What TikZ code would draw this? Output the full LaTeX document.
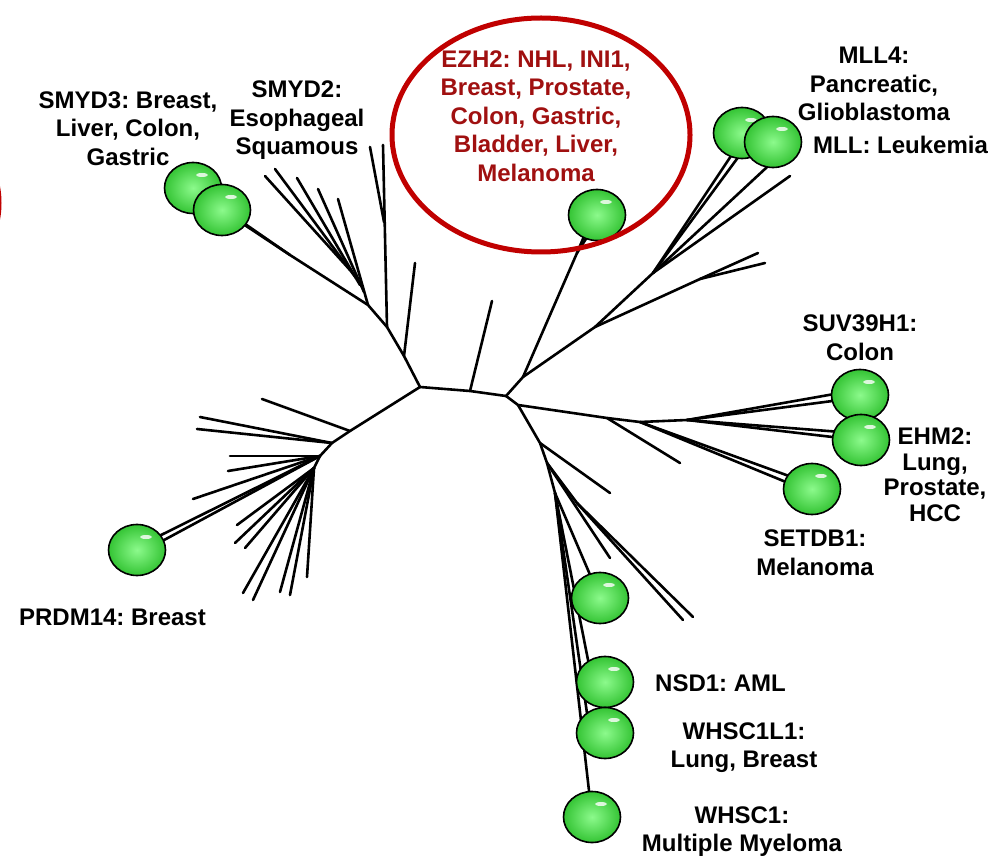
\documentclass[tikz,border=0pt]{standalone}
\usepackage{fontspec}
\setmainfont{Liberation Sans}
\usetikzlibrary{shapes.geometric}
\definecolor{ezhtext}{RGB}{160,16,16}
\definecolor{ezhring}{RGB}{192,0,0}
\definecolor{ballin}{RGB}{140,250,140}
\definecolor{ballout}{RGB}{52,196,52}
\pgfdeclarelayer{bgfill}
\pgfdeclarelayer{treelines}
\pgfsetlayers{bgfill,treelines,main}
\frenchspacing
\begin{document}
\begin{tikzpicture}[x=1pt,y=-1pt,
  edgeline/.style={line width=2.6pt, line cap=round, line join=round},
  gball/.style={ellipse, draw=black, line width=1.6pt, minimum width=57pt, minimum height=51pt,
    inner sep=0pt, shade, inner color=ballin, outer color=ballout,
    path picture={\fill[white,opacity=0.8] ([xshift=9pt,yshift=13pt]path picture bounding box.center) ellipse [x radius=6pt, y radius=2pt];}},
  txtlab/.style={font=\fontsize{24pt}{28.5pt}\selectfont\bfseries, align=center, inner sep=0pt},
]
\begin{pgfonlayer}{bgfill}
\fill[white] (0,0) rectangle (990,866);
\end{pgfonlayer}
\useasboundingbox (0,0) rectangle (990,866);

% ---------- balls ----------
\node[gball] (smyd3a) at (193,188) {};
\node[gball] (smyd3b) at (222,210) {};
\node[gball] (ezh2) at (597,215) {};
\node[gball] (mll4) at (742,133) {};
\node[gball] (mll) at (773,142) {};
\node[gball] (suv) at (860,395) {};
\node[gball] (ehm2) at (861,440) {};
\node[gball] (setdb1) at (812,489) {};
\node[gball] (prdm14) at (137,550) {};
\node[gball] (topb) at (600,598) {};
\node[gball] (nsd1) at (605,682) {};
\node[gball] (whsc1l1) at (605,733) {};
\node[gball] (whsc1) at (592,817) {};

% ---------- tree coordinates ----------
\coordinate (A) at (420,387);
\coordinate (M) at (470,391);
\coordinate (B) at (506,396);
\coordinate (mU) at (492,301);
% upper-left clade
\coordinate (a1) at (404,356);
\coordinate (a1t) at (415,263);
\coordinate (a2) at (387,327);
\coordinate (a2t) at (383,145);
\coordinate (a2m) at (384,222);
\coordinate (a2u) at (370,147);
\coordinate (a3) at (368,305);
\coordinate (f1t) at (338,199);
\coordinate (q1) at (364,292);
\coordinate (f2t) at (318,189);
\coordinate (q2) at (360,285);
\coordinate (f3t) at (297,178);
\coordinate (q3) at (356,278);
\coordinate (f4t) at (275,169);
\coordinate (q4) at (350,270);
\coordinate (f5t) at (265,176);
\coordinate (s3) at (290,255);
% lower-left clade
\coordinate (c1) at (350,431);
\coordinate (c1t) at (262,399);
\coordinate (c2) at (332,443);
\coordinate (c2t) at (200,417);
\coordinate (c2u) at (197,429);
\coordinate (c3) at (320,456);
\coordinate (h1) at (230,456);
\coordinate (h2) at (228,471);
\coordinate (h3) at (193,499);
\coordinate (c3b) at (314,468);
\coordinate (h4) at (237,525);
\coordinate (h5) at (235,543);
\coordinate (h6) at (245,548);
\coordinate (h7) at (243,593);
\coordinate (h8) at (253,600);
\coordinate (h9) at (280,592);
\coordinate (h10) at (290,595);
\coordinate (h11) at (307,577);
% upper-right clade
\coordinate (d1) at (523,377);
\coordinate (d2) at (577,253);
\coordinate (d3) at (595,327);
\coordinate (d4) at (700,279);
\coordinate (d4t) at (758,253);
\coordinate (d4u) at (765,263);
\coordinate (d5) at (653,273);
\coordinate (d5t) at (790,176);
% right clade
\coordinate (e1) at (518,405);
\coordinate (e2) at (607,418);
\coordinate (e2t) at (680,463);
\coordinate (e3) at (640,422);
\coordinate (e4) at (687,420);
% lower-right clade
\coordinate (g1) at (540,443);
\coordinate (g1t) at (610,493);
\coordinate (g2) at (547,463);
\coordinate (g2b) at (577,503);
\coordinate (g2t) at (693,617);
\coordinate (g2u) at (683,620);
\coordinate (g2v) at (610,558);
\coordinate (g3) at (555,493);

% ---------- tree lines ----------
\begin{pgfonlayer}{treelines}
\draw[edgeline] (A) -- (M) -- (B);
\draw[edgeline] (M) -- (mU);
% upper-left
\draw[edgeline] (A) -- (a1) -- (a2) -- (a3) -- (s3);
\draw[edgeline] (a1) -- (a1t);
\draw[edgeline] (a2) -- (a2t);
\draw[edgeline] (a2m) -- (a2u);
\draw[edgeline] (a3) -- (f1t);
\draw[edgeline] (q1) -- (f2t);
\draw[edgeline] (q2) -- (f3t);
\draw[edgeline] (q3) -- (f4t);
\draw[edgeline] (q4) -- (f5t);
\draw[edgeline] (s3) -- (smyd3a.center);
\draw[edgeline] (s3) -- (smyd3b.center);
% lower-left
\draw[edgeline] (A) -- (c1) -- (c2) -- (c3) -- (c3b);
\draw[edgeline] (c1) -- (c1t);
\draw[edgeline] (c2) -- (c2t);
\draw[edgeline] (c2) -- (c2u);
\draw[edgeline] (c3) -- (h1);
\draw[edgeline] (c3) -- (h2);
\draw[edgeline] (c3) -- (h3);
\draw[edgeline] (c3) -- ([yshift=3pt]prdm14.center);
\draw[edgeline] (c3) -- ([xshift=3pt,yshift=-3pt]prdm14.center);
\foreach \h in {h4,h5,h6,h7,h8,h9,h10,h11} \draw[edgeline] (c3b) -- (\h);
% upper-right
\draw[edgeline] (B) -- (d1) -- (d3) -- (d5);
\draw[edgeline] (d1) -- (d2);
\draw[edgeline] (d2) -- ([xshift=-4pt]ezh2.center);
\draw[edgeline] (d2) -- ([xshift=4pt]ezh2.center);
\draw[edgeline] (d3) -- (d4) -- (d4t);
\draw[edgeline] (d4) -- (d4u);
\draw[edgeline] (d5) -- ([xshift=-7pt,yshift=-17pt]mll4.center);
\draw[edgeline] (d5) -- ([yshift=-19pt]mll4.center);
\draw[edgeline] (d5) -- ([xshift=7pt,yshift=-13pt]mll.center);
\draw[edgeline] (d5) -- (d5t);
% right
\draw[edgeline] (B) -- (e1) -- (e2) -- (e3) -- (e4);
\draw[edgeline] (e2) -- (e2t);
\draw[edgeline] (e3) -- ([xshift=-12pt,yshift=9pt]setdb1.center);
\draw[edgeline] (e3) -- ([xshift=-14pt,yshift=2pt]setdb1.center);
\draw[edgeline] (e4) -- ([xshift=-20pt,yshift=2pt]suv.center);
\draw[edgeline] (e4) -- ([xshift=-20pt,yshift=-5pt]suv.center);
\draw[edgeline] (e4) -- ([xshift=-20pt,yshift=8pt]ehm2.center);
\draw[edgeline] (e4) -- ([xshift=-20pt,yshift=2pt]ehm2.center);
% lower-right
\draw[edgeline] (e1) -- (g1) -- (g2) -- (g3);
\draw[edgeline] (g1) -- (g1t);
\draw[edgeline] (g2) -- (g2b) -- (g2t);
\draw[edgeline] (g2b) -- (g2u);
\draw[edgeline] (g2) -- (g2v);
\draw[edgeline] (g3) -- (topb.center);
\draw[edgeline] (g3) -- ([xshift=-15pt,yshift=12pt]nsd1.center);
\draw[edgeline] (g3) -- ([xshift=-17pt,yshift=13pt]whsc1l1.center);
\draw[edgeline] (g3) -- (whsc1.center);
\end{pgfonlayer}

% ---------- red rings ----------
\draw[ezhring, line width=5pt] (541,135) ellipse [x radius=149, y radius=117];
\begin{scope}
\clip (0,0) rectangle (990,866);
\draw[ezhring, line width=5pt] (-151,203) ellipse [x radius=150, y radius=117];
\end{scope}

% ---------- labels ----------
\node[txtlab] (tSMYD3) at (128,128.5) {SMYD3: Breast,\\Liver, Colon,\\Gastric};
\node[txtlab] (tSMYD2) at (297,120.5) {SMYD2:\\Esophageal\\Squamous};
\node[txtlab, text=ezhtext] (tEZH2) at (536,116) {EZH2: NHL, INI1,\\Breast, Prostate,\\Colon, Gastric,\\Bladder, Liver,\\Melanoma};
\node[txtlab] (tMLL4) at (874,84) {MLL4:\\Pancreatic,\\Glioblastoma};
\node[txtlab, anchor=west] (tMLL) at (813,145) {MLL: Leukemia};
\node[txtlab] (tSUV) at (860,337.5) {SUV39H1:\\Colon};
\node[txtlab, font=\fontsize{24pt}{25.5pt}\selectfont\bfseries] (tEHM2) at (935,474.5) {EHM2:\\Lung,\\Prostate,\\HCC};
\node[txtlab] (tSETDB1) at (815,552.5) {SETDB1:\\Melanoma};
\node[txtlab] (tPRDM14) at (112.5,617) {PRDM14: Breast};
\node[txtlab, anchor=west] (tNSD1) at (655,683) {NSD1: AML};
\node[txtlab] (tWHSC1L1) at (744,747.5) {WHSC1L1:\\Lung, Breast};
\node[txtlab] (tWHSC1) at (742,831.5) {WHSC1:\\Multiple Myeloma};
\end{tikzpicture}
\end{document}
